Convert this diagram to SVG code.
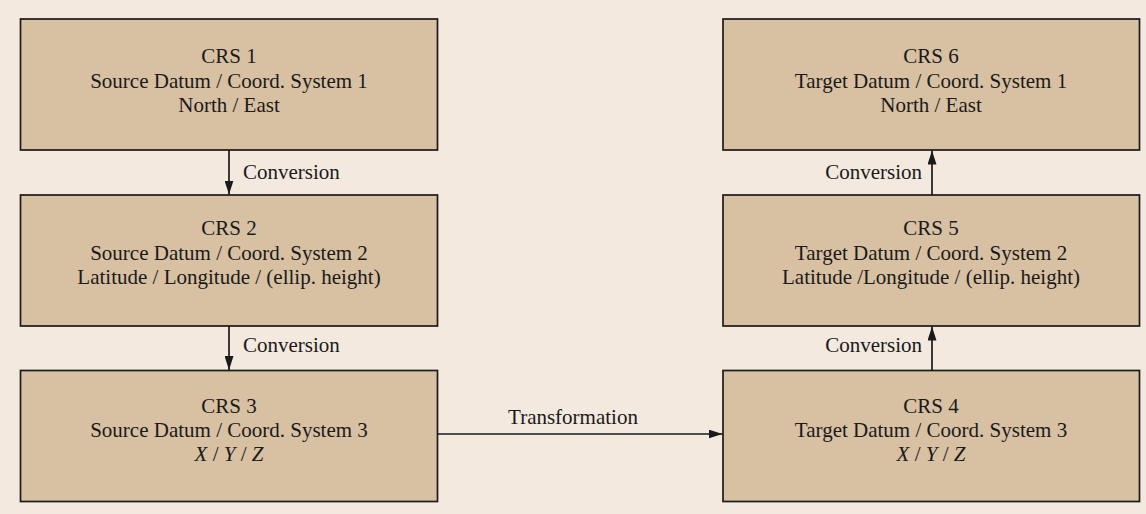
<svg xmlns="http://www.w3.org/2000/svg" width="1146" height="514" viewBox="0 0 1146 514">
<style>
.box{fill:#d8c0a2;stroke:#1a1a1a;stroke-width:1.7}
.t{font-family:"Liberation Serif","Times New Roman",serif;font-size:21px;fill:#1a1a1a;text-anchor:middle}
.l{font-family:"Liberation Serif","Times New Roman",serif;font-size:21px;fill:#1a1a1a}
.c{stroke:#1a1a1a;stroke-width:1.7;fill:none}
</style>
<defs>
<marker id="ah" viewBox="0 0 14 9" refX="14" refY="4.5" markerWidth="14" markerHeight="9" markerUnits="userSpaceOnUse" orient="auto">
<path d="M0,0 L14,4.5 L0,9 Z" fill="#1a1a1a"/>
</marker>
</defs>
<rect x="0" y="0" width="1146" height="514" fill="#f3e9df"/>
<g id="crs1">
<rect class="box" x="20.5" y="19" width="417" height="131"/>
<text class="t" x="229" y="63">CRS 1</text>
<text class="t" x="229" y="88">Source Datum / Coord. System 1</text>
<text class="t" x="229" y="112">North / East</text>
</g>
<g id="crs2">
<rect class="box" x="20.5" y="195" width="417" height="131"/>
<text class="t" x="229" y="235">CRS 2</text>
<text class="t" x="229" y="260">Source Datum / Coord. System 2</text>
<text class="t" x="229" y="284">Latitude / Longitude / (ellip. height)</text>
</g>
<g id="crs3">
<rect class="box" x="20.5" y="370.5" width="417" height="131"/>
<text class="t" x="229" y="413">CRS 3</text>
<text class="t" x="229" y="437">Source Datum / Coord. System 3</text>
<text class="t" x="229" y="461" font-style="italic">X<tspan font-style="normal"> / </tspan>Y<tspan font-style="normal"> / </tspan>Z</text>
</g>
<g id="crs4">
<rect class="box" x="723" y="370.5" width="416.5" height="131"/>
<text class="t" x="931" y="413">CRS 4</text>
<text class="t" x="931" y="437">Target Datum / Coord. System 3</text>
<text class="t" x="931" y="461" font-style="italic">X<tspan font-style="normal"> / </tspan>Y<tspan font-style="normal"> / </tspan>Z</text>
</g>
<g id="crs5">
<rect class="box" x="723" y="195" width="416.5" height="131"/>
<text class="t" x="931" y="235">CRS 5</text>
<text class="t" x="931" y="260">Target Datum / Coord. System 2</text>
<text class="t" x="931" y="284">Latitude /Longitude / (ellip. height)</text>
</g>
<g id="crs6">
<rect class="box" x="723" y="19" width="416.5" height="131"/>
<text class="t" x="931" y="63">CRS 6</text>
<text class="t" x="931" y="88">Target Datum / Coord. System 1</text>
<text class="t" x="931" y="112">North / East</text>
</g>
<g id="connectors">
<line class="c" x1="229" y1="150" x2="229" y2="194.5" marker-end="url(#ah)"/>
<text class="l" x="243" y="179">Conversion</text>
<line class="c" x1="229" y1="326" x2="229" y2="370" marker-end="url(#ah)"/>
<text class="l" x="243" y="352">Conversion</text>
<line class="c" x1="437.5" y1="434" x2="722.5" y2="434" marker-end="url(#ah)"/>
<text class="t" x="573" y="424">Transformation</text>
<line class="c" x1="932" y1="370.5" x2="932" y2="326.5" marker-end="url(#ah)"/>
<text class="l" x="922" y="352" text-anchor="end">Conversion</text>
<line class="c" x1="932" y1="195" x2="932" y2="150.5" marker-end="url(#ah)"/>
<text class="l" x="922" y="179" text-anchor="end">Conversion</text>
</g>
</svg>
